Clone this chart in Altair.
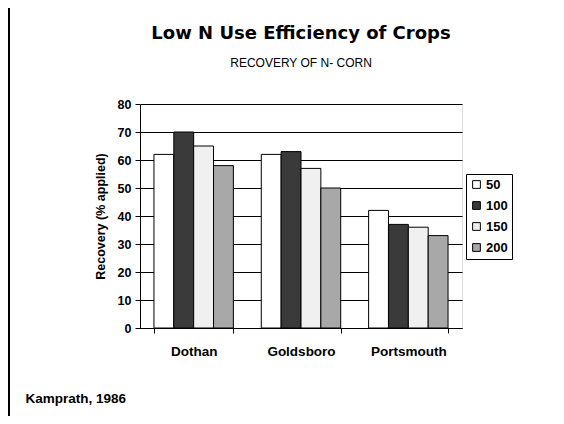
import altair as alt
import pandas as pd

sites = ["Dothan", "Goldsboro", "Portsmouth"]
rates = ["50", "100", "150", "200"]
rec_50 = [62, 62, 42]
rec_100 = [70, 63, 37]
rec_150 = [65, 57, 36]
rec_200 = [58, 50, 33]
fills = ["#ffffff", "#3a3a3a", "#f0f0f0", "#a8a8a8"]
y_ticks = [0, 10, 20, 30, 40, 50, 60, 70, 80]

rows = []
for rate, vals in zip(rates, [rec_50, rec_100, rec_150, rec_200]):
    for s, v in zip(sites, vals):
        rows.append({"site": s, "rate": rate, "recovery": v})
df = pd.DataFrame(rows)

FONT = "Liberation Sans"

bars = alt.Chart(df).mark_bar(stroke="black", strokeWidth=1).encode(
    x=alt.X(
        "site:N", sort=sites,
        scale=alt.Scale(paddingInner=0.26, paddingOuter=0.13),
        axis=alt.Axis(
            title="Kamprath, 1986", labelAngle=0, tickBand="extent",
            tickSize=5, tickColor="black", domainColor="black",
            labelFont=FONT, labelFontSize=13.5, labelFontWeight="bold",
            labelColor="black", labelPadding=11,
            titleFont=FONT, titleFontSize=13.5, titleFontWeight="bold",
            titleColor="black", titleX=-115, titleY=70, titleAlign="left",
            titleBaseline="middle",
        ),
    ),
    xOffset=alt.XOffset("rate:N", sort=rates,
                        scale=alt.Scale(paddingInner=0, paddingOuter=0)),
    y=alt.Y(
        "recovery:Q",
        scale=alt.Scale(domain=[0, 80], nice=False),
        axis=alt.Axis(
            values=y_ticks, title="Recovery (% applied)",
            grid=True, gridColor="black", gridOpacity=1, gridWidth=1,
            tickSize=5, tickColor="black", domainColor="black",
            labelFont=FONT, labelFontSize=12.5, labelFontWeight="bold",
            labelColor="black", labelPadding=4,
            titleFont=FONT, titleFontSize=12.5, titleFontWeight="bold",
            titleColor="black", titlePadding=10,
        ),
    ),
    color=alt.Color(
        "rate:N", sort=rates,
        scale=alt.Scale(domain=rates, range=fills),
        legend=alt.Legend(
            title=None, orient="none", legendX=326, legendY=70,
            strokeColor="black", padding=4, symbolType="square",
            symbolSize=60, symbolStrokeColor="black", symbolStrokeWidth=1,
            labelFont=FONT, labelFontSize=13, labelFontWeight="bold",
            labelColor="black", rowPadding=7, labelOffset=3,
        ),
    ),
)

frame = alt.Chart(pd.DataFrame({"edge": [0]})).mark_rule(
    color="black", strokeWidth=2
).encode(x=alt.value(-131), y=alt.value(-96), y2=alt.value(312))

chart = alt.layer(bars, frame).properties(
    width=322,
    height=224,
    autosize="none",
    padding={"left": 132, "top": 96, "right": 94, "bottom": 88},
    title=alt.TitleParams(
        text="Low N Use Efficiency of Crops",
        subtitle="RECOVERY OF N- CORN",
        font="DejaVu Sans", fontSize=18, fontWeight="bold", color="black",
        subtitleFont=FONT, subtitleFontSize=12, subtitleColor="black",
        subtitlePadding=15, anchor="middle", offset=27, dy=89,
    ),
).configure_view(stroke="black", strokeWidth=1).configure(background="white")

chart.save("out.html", embed_options={"renderer": "svg", "actions": False})
